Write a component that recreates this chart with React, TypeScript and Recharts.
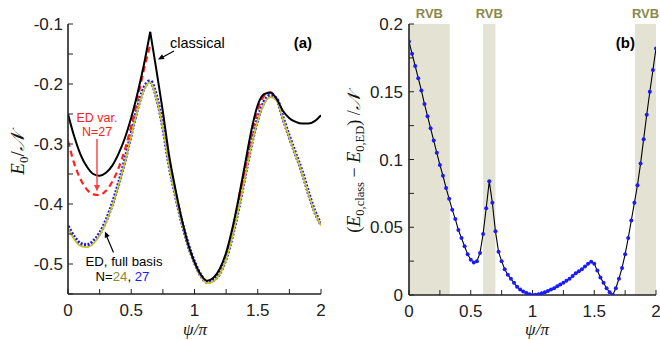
import React from 'react';
import { LineChart, Line, XAxis, YAxis, ReferenceArea } from 'recharts';

// ---------- data (a) ----------
const psiLeft = [0, 0.05, 0.1, 0.15, 0.2, 0.25, 0.3, 0.35, 0.4, 0.45, 0.5, 0.55, 0.6, 0.65, 0.7, 0.75, 0.8, 0.85, 0.9, 0.95, 1.0,
  1.05, 1.1, 1.15, 1.2, 1.25, 1.3, 1.35, 1.4, 1.45, 1.5, 1.55, 1.6, 1.65, 1.7, 1.75, 1.8, 1.85, 1.9, 1.95, 2.0];
const classicalE = [-0.25, -0.288, -0.318, -0.338, -0.35, -0.353, -0.348, -0.336, -0.316, -0.29, -0.256, -0.215, -0.168, -0.113,
  -0.178, -0.246, -0.32, -0.376, -0.426, -0.467, -0.497, -0.518, -0.528, -0.523, -0.508, -0.481, -0.44, -0.389, -0.333, -0.277,
  -0.235, -0.217, -0.214, -0.225, -0.245, -0.257, -0.263, -0.266, -0.266, -0.262, -0.252];
const edFull27 = [-0.437, -0.455, -0.466, -0.468, -0.462, -0.449, -0.428, -0.4, -0.366, -0.327, -0.283, -0.24, -0.207, -0.195,
  -0.222, -0.271, -0.335, -0.385, -0.43, -0.468, -0.497, -0.519, -0.53, -0.527, -0.515, -0.49, -0.452, -0.405, -0.352, -0.3,
  -0.258, -0.23, -0.219, -0.225, -0.257, -0.288, -0.317, -0.346, -0.381, -0.412, -0.434];
const edFull24 = [-0.44, -0.459, -0.47, -0.472, -0.466, -0.452, -0.431, -0.403, -0.369, -0.33, -0.286, -0.243, -0.21, -0.197,
  -0.224, -0.273, -0.337, -0.387, -0.432, -0.47, -0.499, -0.521, -0.532, -0.529, -0.517, -0.492, -0.454, -0.407, -0.355, -0.303,
  -0.261, -0.233, -0.222, -0.228, -0.259, -0.29, -0.319, -0.348, -0.383, -0.414, -0.436];
const edVar27: (number | null)[] = [-0.295, -0.333, -0.359, -0.376, -0.384, -0.385, -0.378, -0.363, -0.34, -0.309, -0.27, -0.224,
  -0.176, -0.135, null, null, null, null, null, null, null, null, null, null, null, null, null, -0.389, -0.34, -0.285,
  -0.243, -0.22, -0.214, -0.225, null, null, null, null, null, null, null];

// ---------- data (b) ----------
const psiRight = [0, 0.025, 0.05, 0.075, 0.1, 0.125, 0.15, 0.175, 0.2, 0.225, 0.25, 0.275, 0.3, 0.325, 0.35, 0.375, 0.4, 0.425,
  0.45, 0.475, 0.5, 0.525, 0.55, 0.575, 0.6, 0.625, 0.65, 0.675, 0.7, 0.725, 0.75, 0.775, 0.8, 0.825, 0.85, 0.875, 0.9, 0.925,
  0.95, 0.975, 1.0, 1.025, 1.05, 1.075, 1.1, 1.125, 1.15, 1.175, 1.2, 1.225, 1.25, 1.275, 1.3, 1.325, 1.35, 1.375, 1.4, 1.425,
  1.45, 1.475, 1.5, 1.525, 1.55, 1.575, 1.6, 1.625, 1.65, 1.675, 1.7, 1.725, 1.75, 1.775, 1.8, 1.825, 1.85, 1.875, 1.9, 1.925,
  1.95, 1.975, 2.0];
const diffE = [0.187, 0.178, 0.169, 0.16, 0.151, 0.141, 0.132, 0.123, 0.114, 0.105, 0.096, 0.088, 0.079, 0.071, 0.063, 0.056,
  0.048, 0.042, 0.036, 0.03, 0.026, 0.024, 0.025, 0.031, 0.045, 0.064, 0.084, 0.068, 0.047, 0.032, 0.025, 0.019, 0.015, 0.012,
  0.009, 0.006, 0.004, 0.0025, 0.0015, 0.0005, 0, 0.0002, 0.0006, 0.0012, 0.002, 0.003, 0.004, 0.005, 0.0065, 0.0078, 0.009,
  0.0105, 0.012, 0.014, 0.016, 0.0175, 0.019, 0.021, 0.023, 0.0245, 0.023, 0.018, 0.013, 0.009, 0.005, 0.002, 0, 0.005, 0.012,
  0.02, 0.03, 0.042, 0.055, 0.068, 0.081, 0.097, 0.115, 0.133, 0.15, 0.166, 0.182];
const rvbStart = [0, 0.6, 1.83];
const rvbEnd = [0.33, 0.7, 2];
const rvbLabel = 'RVB';

// ---------- ticks ----------
const xTicks = [0, 0.25, 0.5, 0.75, 1, 1.25, 1.5, 1.75, 2];
const xTickLabels = ['0', '', '0.5', '', '1', '', '1.5', '', '2'];
const yTicksLeft = [-0.55, -0.5, -0.45, -0.4, -0.35, -0.3, -0.25, -0.2, -0.15, -0.1];
const yTickLabelsLeft = ['', '-0.5', '', '-0.4', '', '-0.3', '', '-0.2', '', '-0.1'];
const yTicksRight = [0, 0.025, 0.05, 0.075, 0.1, 0.125, 0.15, 0.175, 0.2];
const yTickLabelsRight = ['0', '', '0.05', '', '0.1', '', '0.15', '', '0.2'];

const leftData = psiLeft.map((p, i) => ({
  psi: p,
  clsA: p <= 0.65 + 1e-9 ? classicalE[i] : null,
  clsB: p >= 0.65 - 1e-9 ? classicalE[i] : null,
  ed27: edFull27[i],
  ed24: edFull24[i],
  edv: edVar27[i],
}));
const rightData = psiRight.map((p, i) => ({ psi: p, d: diffE[i] }));

const lookup = (ticks: number[], labels: string[]) => (v: number) => {
  const i = ticks.findIndex((t) => Math.abs(t - v) < 1e-9);
  return i >= 0 ? labels[i] : '';
};

const SANS = 'Liberation Sans, Arial, Helvetica, sans-serif';
const SERIF = 'Liberation Serif, DejaVu Serif, Times New Roman, serif';
const AX = '#222';
const tickStyle = { fill: '#222', fontSize: 17, fontFamily: SANS };
const axisLine = { stroke: AX, strokeWidth: 1.6 };
const tickLine = { stroke: AX, strokeWidth: 1 };
const blank = () => '';

const arrowHead = (x1: number, y1: number, x2: number, y2: number, size: number) => {
  const a = Math.atan2(y2 - y1, x2 - x1);
  const w = size * 0.45;
  const bx = x2 - size * Math.cos(a);
  const by = y2 - size * Math.sin(a);
  const p1 = `${bx + w * Math.sin(a)},${by - w * Math.cos(a)}`;
  const p2 = `${bx - w * Math.sin(a)},${by + w * Math.cos(a)}`;
  return `${x2},${y2} ${p1} ${p2}`;
};

export default function App() {
  return (
    <div style={{ position: 'absolute', left: 0, top: 0, width: 660, height: 340, background: '#fff' }}>
      <div style={{ position: 'absolute', left: 0, top: 0 }}>
        <LineChart width={330} height={340} data={leftData} margin={{ top: 24, right: 9, bottom: 0, left: 0 }}>
          <XAxis xAxisId="b" dataKey="psi" type="number" domain={[0, 2]} ticks={xTicks} interval={0}
            tickFormatter={lookup(xTicks, xTickLabels)} tickSize={-5} tickMargin={15} height={46}
            axisLine={axisLine} tickLine={tickLine} tick={tickStyle} allowDataOverflow />
          <XAxis xAxisId="t" orientation="top" dataKey="psi" type="number" domain={[0, 2]} ticks={xTicks} interval={0}
            tickFormatter={blank} tickSize={-5} height={0} axisLine={axisLine} tickLine={tickLine} tick={tickStyle} allowDataOverflow />
          <YAxis yAxisId="l" type="number" domain={[-0.55, -0.1]} ticks={yTicksLeft} interval={0}
            tickFormatter={lookup(yTicksLeft, yTickLabelsLeft)} tickSize={-5} tickMargin={10} width={68}
            axisLine={axisLine} tickLine={tickLine} tick={tickStyle} allowDataOverflow />
          <YAxis yAxisId="r" orientation="right" type="number" domain={[-0.55, -0.1]} ticks={yTicksLeft} interval={0}
            tickFormatter={blank} tickSize={-5} width={0} axisLine={axisLine} tickLine={tickLine} tick={tickStyle} allowDataOverflow />
          <Line xAxisId="b" yAxisId="l" dataKey="ed27" type="monotone" stroke="#1717ff" strokeWidth={3.6}
            strokeDasharray="2 1.6" dot={false} isAnimationActive={false} />
          <Line xAxisId="b" yAxisId="l" dataKey="ed24" type="monotone" stroke="#c9c21c" strokeWidth={1.7}
            dot={false} isAnimationActive={false} />
          <Line xAxisId="b" yAxisId="l" dataKey="edv" type="monotone" stroke="#ff2020" strokeWidth={2.2}
            strokeDasharray="6 4" dot={false} isAnimationActive={false} connectNulls={false} />
          <Line xAxisId="b" yAxisId="l" dataKey="clsA" type="monotone" stroke="#000" strokeWidth={2}
            dot={false} isAnimationActive={false} />
          <Line xAxisId="b" yAxisId="l" dataKey="clsB" type="monotone" stroke="#000" strokeWidth={2}
            dot={false} isAnimationActive={false} />
        </LineChart>
      </div>
      <div style={{ position: 'absolute', left: 330, top: 0 }}>
        <LineChart width={330} height={340} data={rightData} margin={{ top: 24, right: 4, bottom: 0, left: 0 }}>
          {rvbStart.map((s, i) => (
            <ReferenceArea key={i} xAxisId="b" yAxisId="l" x1={s} x2={rvbEnd[i]} y1={0} y2={0.2}
              fill="#e4e3d3" fillOpacity={1} stroke="none" ifOverflow="visible"
              label={{ value: rvbLabel, position: 'top', offset: 6, fill: '#8a8848', fontSize: 13, fontWeight: 'bold', fontFamily: SANS }} />
          ))}
          <XAxis xAxisId="b" dataKey="psi" type="number" domain={[0, 2]} ticks={xTicks} interval={0}
            tickFormatter={lookup(xTicks, xTickLabels)} tickSize={-5} tickMargin={15} height={45}
            axisLine={axisLine} tickLine={tickLine} tick={tickStyle} allowDataOverflow />
          <XAxis xAxisId="t" orientation="top" dataKey="psi" type="number" domain={[0, 2]} ticks={xTicks} interval={0}
            tickFormatter={blank} tickSize={-5} height={0} axisLine={axisLine} tickLine={tickLine} tick={tickStyle} allowDataOverflow />
          <YAxis yAxisId="l" type="number" domain={[0, 0.2]} ticks={yTicksRight} interval={0}
            tickFormatter={lookup(yTicksRight, yTickLabelsRight)} tickSize={-5} tickMargin={11} width={79}
            axisLine={axisLine} tickLine={tickLine} tick={tickStyle} allowDataOverflow />
          <YAxis yAxisId="r" orientation="right" type="number" domain={[0, 0.2]} ticks={yTicksRight} interval={0}
            tickFormatter={blank} tickSize={-5} width={0} axisLine={axisLine} tickLine={tickLine} tick={tickStyle} allowDataOverflow />
          <Line xAxisId="b" yAxisId="l" dataKey="d" type="linear" stroke="#000" strokeWidth={1.1}
            dot={{ r: 2, fill: '#1a1aff', stroke: 'none' }} isAnimationActive={false} />
        </LineChart>
      </div>
      <svg width={660} height={340} style={{ position: 'absolute', left: 0, top: 0, pointerEvents: 'none' }}>
        {/* panel (a) annotations */}
        <text x={170} y={48} fontFamily={SANS} fontSize={14.5} fill="#000">classical</text>
        <line x1={174} y1={51} x2={162} y2={57.5} stroke="#000" strokeWidth={1.2} />
        <polygon points={arrowHead(174, 51, 158, 59.5, 6)} fill="#000" />
        <text x={312} y={48} fontFamily={SANS} fontSize={15} fontWeight="bold" textAnchor="end" fill="#000">(a)</text>
        <text x={97} y={122} fontFamily={SANS} fontSize={12.5} textAnchor="middle" fill="#ff2020">ED var.</text>
        <text x={97} y={135.5} fontFamily={SANS} fontSize={12.5} textAnchor="middle" fill="#ff2020">N=27</text>
        <line x1={97} y1={139} x2={97} y2={186} stroke="#ff3b3b" strokeWidth={1.4} />
        <polygon points={arrowHead(97, 139, 97, 191.5, 6.5)} fill="#ff3b3b" />
        <text x={124} y={265.5} fontFamily={SANS} fontSize={13.2} textAnchor="middle" fill="#000">ED, full basis</text>
        <text x={122.5} y={280.5} fontFamily={SANS} fontSize={13.2} textAnchor="middle" fill="#000">
          <tspan>N=</tspan><tspan fill="#8c8a38">24</tspan><tspan>, </tspan><tspan fill="#1a1aff">27</tspan>
        </text>
        <line x1={113.5} y1={252.5} x2={106.5} y2={236} stroke="#000" strokeWidth={1.2} />
        <polygon points={arrowHead(113.5, 252.5, 105, 231.5, 6)} fill="#000" />
        {/* panel (b) */}
        <text x={635} y={48} fontFamily={SANS} fontSize={15} fontWeight="bold" textAnchor="end" fill="#000">(b)</text>
        {/* axis titles */}
        <text transform="translate(24,154) rotate(-90)" textAnchor="middle" fontFamily={SERIF} fontSize={19} fill="#111">
          <tspan fontStyle="italic">E</tspan><tspan fontSize={13} dy={4}>0</tspan><tspan dy={-4}>/</tspan><tspan fontStyle="italic">𝒩</tspan>
        </text>
        <text transform="translate(360,163) rotate(-90)" textAnchor="middle" fontFamily={SERIF} fontSize={18} fill="#111">
          <tspan>(</tspan><tspan fontStyle="italic">E</tspan><tspan fontSize={12.5} dy={4}>0,class</tspan>
          <tspan dy={-4}> − </tspan><tspan fontStyle="italic">E</tspan><tspan fontSize={12.5} dy={4}>0,ED</tspan>
          <tspan dy={-4}>) /</tspan><tspan fontStyle="italic">𝒩</tspan>
        </text>
        <text x={195} y={335} textAnchor="middle" fontFamily={SERIF} fontStyle="italic" fontSize={17} fill="#111">ψ/π</text>
        <text x={537} y={335} textAnchor="middle" fontFamily={SERIF} fontStyle="italic" fontSize={17} fill="#111">ψ/π</text>
      </svg>
    </div>
  );
}
